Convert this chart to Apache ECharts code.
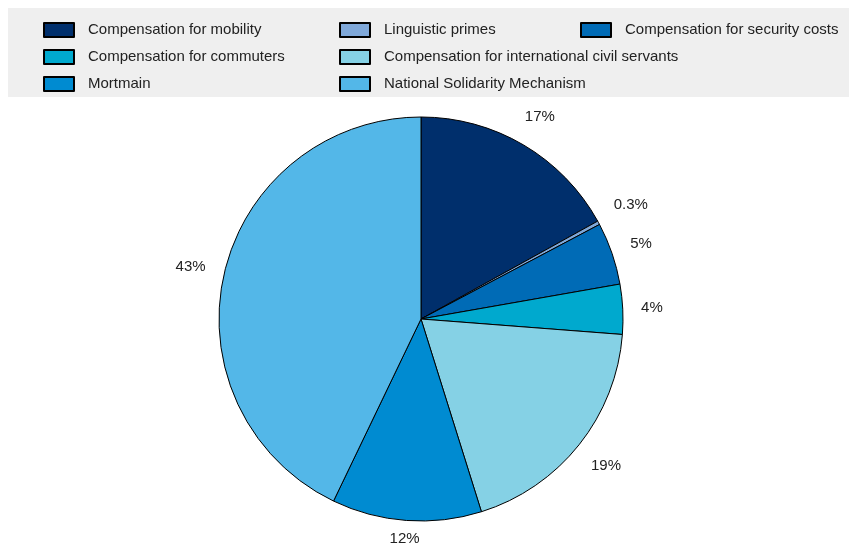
<!DOCTYPE html>
<html>
<head>
<meta charset="utf-8">
<script src="https://cdn.jsdelivr.net/npm/echarts@6/dist/echarts.min.js"></script>
<style>
  html, body { margin: 0; padding: 0; background: #ffffff; }
  #chart { width: 849px; height: 547px; }
</style>
</head>
<body>
<div id="chart"></div>
<script>
// Share of each allowance in the total (%), clockwise from 12 o'clock
const categories = [
  'Compensation for mobility',
  'Linguistic primes',
  'Compensation for security costs',
  'Compensation for commuters',
  'Compensation for international civil servants',
  'Mortmain',
  'National Solidarity Mechanism'
];
const shares = [17, 0.3, 5, 4, 19, 12, 43];
const shareLabels = ['17%', '0.3%', '5%', '4%', '19%', '12%', '43%'];
const colors = ['#002F6C', '#7FA8D9', '#006BB6', '#00A9CE', '#85D1E5', '#008BD1', '#53B7E8'];

// Legend columns, read top to bottom
const legendColumns = [
  [categories[0], categories[3], categories[5]],
  [categories[1], categories[4], categories[6]],
  [categories[2]]
];
const legendLeft = [43, 339, 580];

const fontFamily = '"Liberation Sans", Arial, sans-serif';
const W = 849, H = 547;
const CX = 421, CY = 319, R = 202;
const LABEL_GAP = 18;

// Mid angle of each slice (radians, measured clockwise from 12 o'clock)
const total = shares.reduce((a, b) => a + b, 0);
const midAngles = [];
shares.reduce((acc, v) => {
  midAngles.push((acc + v / 2) / total * Math.PI * 2);
  return acc + v;
}, 0);

// Label box centred on the slice's ray, its nearest edge just outside the rim,
// kept inside the canvas
function placeLabel(params) {
  const a = midAngles[params.dataIndex];
  const sx = Math.sin(a), cy = -Math.cos(a);
  const w = params.labelRect.width, h = params.labelRect.height;
  const ext = (w / 2) * Math.abs(sx) + (h / 2) * Math.abs(cy);
  const d = R + LABEL_GAP + ext;
  let x = CX + d * sx;
  let y = CY + d * cy;
  y = Math.min(Math.max(y, h / 2 + 1), H - h / 2 - 1);
  x = Math.min(Math.max(x, w / 2 + 1), W - w / 2 - 1);
  return { x: x, y: y, align: 'center', verticalAlign: 'middle' };
}

const chart = echarts.init(document.getElementById('chart'), null, { renderer: 'canvas' });

const legends = legendColumns.map((col, i) => ({
  data: col,
  orient: 'vertical',
  left: legendLeft[i],
  top: 22,
  padding: 0,
  itemWidth: 30,
  itemHeight: 14,
  itemGap: 11,
  icon: 'rect',
  selectedMode: false,
  textStyle: { fontFamily: fontFamily, fontSize: 15, color: '#222', padding: [0, 0, 0, 9] }
}));

chart.setOption({
  animation: false,
  color: colors,
  graphic: [{
    type: 'rect',
    z: -10,
    shape: { x: 8, y: 8, width: 841, height: 89 },
    style: { fill: '#efefef' },
    silent: true
  }],
  legend: legends,
  series: [{
    type: 'pie',
    center: [CX, CY],
    radius: [0, R],
    startAngle: 90,
    clockwise: true,
    avoidLabelOverlap: false,
    silent: true,
    itemStyle: { borderColor: '#000', borderWidth: 1 },
    label: {
      show: true,
      position: 'outside',
      fontFamily: fontFamily,
      fontSize: 15,
      color: '#222',
      formatter: p => shareLabels[p.dataIndex]
    },
    labelLine: { show: false, length: 12, length2: 0 },
    labelLayout: placeLabel,
    data: categories.map((name, i) => ({ name: name, value: shares[i] }))
  }]
});
</script>
</body>
</html>
